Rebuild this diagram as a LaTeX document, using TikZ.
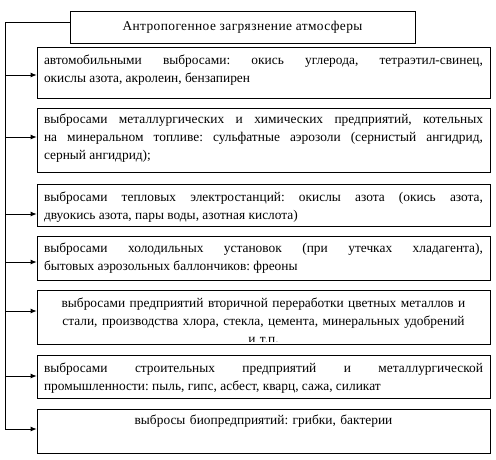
\documentclass[tikz,border=0pt]{standalone}
\usepackage{fontspec}
\setmainfont{Liberation Serif}
\usetikzlibrary{arrows.meta}
\frenchspacing
\begin{document}
\begin{tikzpicture}[x=1pt,y=-1pt,
  box/.style={draw, line width=0.8pt, minimum width=453pt, inner sep=0pt},
  body/.style={text width=439pt, align=justify, font=\fontsize{13.4}{18}\selectfont\frenchspacing, inner sep=0pt},
  arr/.style={-{Latex[length=6pt,width=5pt]}, line width=0.8pt},
  conn/.style={line width=0.8pt}]
\useasboundingbox (0,0) rectangle (496,459);
\node[box, minimum width=345pt, minimum height=32pt, font=\fontsize{13.4}{18}\selectfont\addfontfeatures{LetterSpace=3}] (title) at (242.5,27) {Антропогенное загрязнение атмосферы};
\node[box, minimum height=51pt] (b1) at (263.5,72.5) {};
\node[body] (t1) at (263.5,70) {автомобильными выбросами: окись углерода, тетраэтил-свинец,\linebreak окислы азота, акролеин, бензапирен};
\node[box, minimum height=64pt] (b2) at (263.5,140) {};
\node[body] (t2) at (263.5,138.5) {выбросами металлургических и химических предприятий, котельных\linebreak на минеральном топливе: сульфатные аэрозоли (сернистый ангидрид,\linebreak серный ангидрид);};
\node[box, minimum height=42pt] (b3) at (263.5,205) {};
\node[body] (t3) at (263.5,207) {выбросами тепловых электростанций: окислы азота (окись азота,\linebreak двуокись азота, пары воды, азотная кислота)};
\node[box, minimum height=44pt] (b4) at (263.5,258) {};
\node[body] (t4) at (263.5,258.5) {выбросами холодильных установок (при утечках хладагента),\linebreak бытовых аэрозольных баллончиков: фреоны};
\begin{scope}
\clip (37,290) rectangle (490,341.6);
\node[body, align=center] (t5) at (263.5,321) {выбросами предприятий вторичной переработки цветных металлов и\\ стали, производства хлора, стекла, цемента, минеральных удобрений\\ и т.п.};
\end{scope}
\node[box, minimum height=54pt] (b5) at (263.5,317) {};
\node[box, minimum height=43pt] (b6) at (263.5,376.5) {};
\node[body] (t6) at (263.5,378) {выбросами строительных предприятий и металлургической\linebreak промышленности: пыль, гипс, асбест, кварц, сажа, силикат};
\node[box, minimum height=44pt] (b7) at (263.5,431) {};
\node[body, align=center] (t7) at (263.5,421) {выбросы биопредприятий: грибки, бактерии};
\coordinate (top) at (5,22);
\coordinate (a1) at (5,75);
\coordinate (a2) at (5,137);
\coordinate (a3) at (5,214);
\coordinate (a4) at (5,262);
\coordinate (a5) at (5,311);
\coordinate (a6) at (5,376);
\coordinate (a7) at (5,429);
\draw[arr] (title.west |- top) -- (top) -- (a7) -- (a7 -| b7.west);
\foreach \i in {1,...,6} {\draw[arr] (a\i) -- (a\i -| b\i.west);}
\end{tikzpicture}
\end{document}
